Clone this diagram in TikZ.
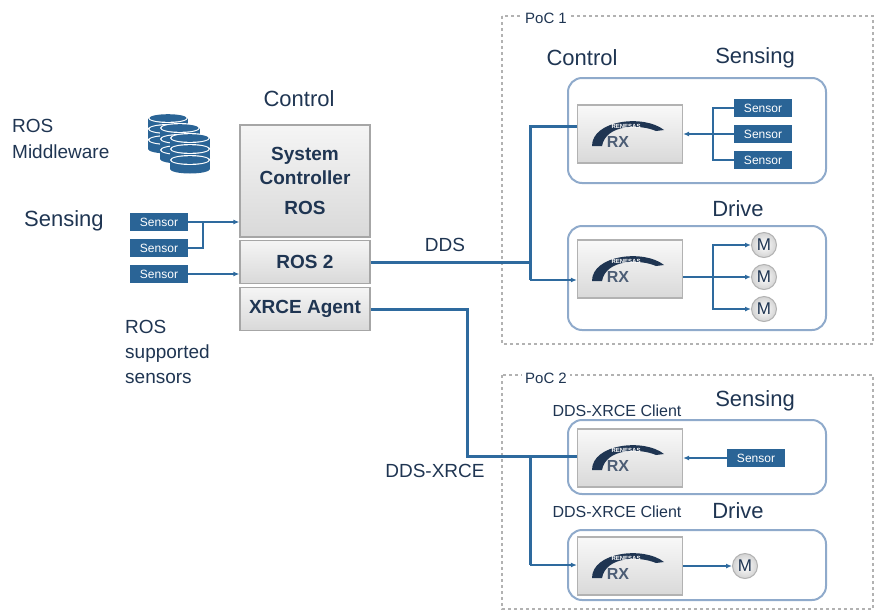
\documentclass[tikz,border=0pt]{standalone}
\usepackage{fontspec}
\setmainfont{Liberation Sans}
\usetikzlibrary{arrows.meta}
\definecolor{navy}{HTML}{1F3552}
\definecolor{sblue}{HTML}{2A6496}
\definecolor{lblue}{HTML}{8FAACB}
\definecolor{lin}{HTML}{2E6A9E}
\begin{document}
\begin{tikzpicture}[x=1pt,y=-1pt,
 lbl/.style={text=navy,font=\fontsize{22}{24}\selectfont,inner sep=0},
 sen/.style={fill=sblue,text=white,font=\fontsize{12}{12}\selectfont,minimum width=58,minimum height=18,inner sep=0},
 gbox/.style={draw=gray!70,line width=1.2,top color=gray!8,bottom color=gray!30,text=navy,font=\bfseries\fontsize{19}{24}\selectfont,align=center,inner sep=0},
 rbox/.style={draw=lblue,line width=2,rounded corners=14},
 poc/.style={draw=gray!60,dashed,line width=1.5},
 thin/.style={draw=lin,line width=1.3},
 thk/.style={draw=lin,line width=3},
 arr/.style={-{Latex[length=6,width=5]}},
 mot/.style={circle,draw=gray!60,line width=1,inner color=white,outer color=gray!35,minimum size=25,inner sep=0,font=\fontsize{17}{17}\selectfont,text=navy}]
\useasboundingbox (0,0) rectangle (875,611);
% dashed PoC boxes
\draw[poc] (502,16) rectangle (873,344);
\node[fill=white,inner sep=3,font=\fontsize{15}{16}\selectfont,text=navy] (p1) at (546,18) {PoC 1};
\draw[poc] (502,375) rectangle (873,609);
\node[fill=white,inner sep=3,font=\fontsize{15}{16}\selectfont,text=navy] (p2) at (546,378) {PoC 2};
% left texts
\node[lbl,anchor=west,align=left,font=\fontsize{19}{26}\selectfont] (mw) at (12,139) {ROS\\Middleware};
\node[lbl,anchor=west] (sl) at (24,221) {Sensing};
\node[lbl,anchor=north west,align=left,font=\fontsize{19}{25}\selectfont] (rs) at (125,320) {ROS\\supported\\sensors};
\node[lbl] (ctl) at (299,99) {Control};
% database icon
\foreach \i/\xx/\yy in {1/168/118,2/180/128,3/190/138}{
 \foreach \k in {0,1,2}{
  \fill[sblue] (\xx-20,\yy+\k*11) rectangle (\xx+20,\yy+\k*11+9);
  \fill[sblue] (\xx,\yy+\k*11+9) ellipse (20 and 4.5);
  \fill[white] (\xx,\yy+\k*11) ellipse (20 and 5);
  \fill[sblue] (\xx,\yy+\k*11) ellipse (18.5 and 3.8);
 }}
% controller boxes
\node[gbox,minimum width=130,minimum height=112] (sc) at (305,181) {System\\Controller\\[6pt]ROS};
\node[gbox,minimum width=130,minimum height=43] (r2) at (305,262) {ROS 2};
\node[gbox,minimum width=130,minimum height=43] (xa) at (305,309) {XRCE Agent};
% left sensors
\node[sen] (s1) at (159,222) {Sensor};
\node[sen] (s2) at (159,248) {Sensor};
\node[sen] (s3) at (159,274) {Sensor};
\coordinate (j1) at (203,222);
\draw[thin,arr] (s1) -- (sc.west|-s1);
\draw[thin] (s2) -| (j1);
\draw[thin,arr] (s3) -- (r2.west|-s3);
% RX chip pic
\newcommand{\rxchip}[2]{%
 \node[draw=gray!60,line width=1.2,top color=gray!5,bottom color=gray!30,minimum width=105,minimum height=58,inner sep=0] (#1) at #2 {};
 \begin{scope}[shift={(#1.center)}]
  \fill[navy] (-38,12) .. controls (-38,-14) and (14,-20) .. (34,-4) -- (26,-3) .. controls (10,-10) and (-24,-10) .. (-28,12) -- cycle;
  \node[text=white,font=\bfseries\fontsize{6}{6}\selectfont,inner sep=0] at (-4,-8) {RENESAS};
  \node[text=navy!80,font=\bfseries\fontsize{16}{16}\selectfont,inner sep=0] at (-12,8) {RX};
 \end{scope}}
% PoC1 sensing
\node[lbl] (c1) at (582,58) {Control};
\node[lbl] (sn1) at (755,58) {Sensing};
\draw[rbox] (568,78) rectangle (826,183);
\rxchip{rx1}{(630,134)}
\node[sen] (a1) at (763,108) {Sensor};
\node[sen] (a2) at (763,134) {Sensor};
\node[sen] (a3) at (763,160) {Sensor};
\coordinate (j2) at (713,134);
\draw[thin] (a1) -| (j2) |- (a3);
\draw[thin,arr] (a2) -- (rx1);
% Drive
\node[lbl] (dr1) at (738,209) {Drive};
\draw[rbox] (568,226) rectangle (826,330);
\rxchip{rx2}{(630,269)}
\node[mot] (m1) at (764,245) {M};
\node[mot] (m2) at (764,277) {M};
\node[mot] (m3) at (764,309) {M};
\coordinate (j3) at (713,277);
\draw[thin] (rx2.east|-m2) -- (j3);
\draw[thin,arr] (j3) |- (m1);
\draw[thin,arr] (j3) -- (m2);
\draw[thin,arr] (j3) |- (m3);
% DDS
\coordinate (d1) at (530,262);
\draw[thk] (r2.east) -- (d1);
\draw[thk] (rx1.west|-0,126) -| (530,280);
\draw[thin,line width=2,arr] (530,280) -- (rx2.west|-0,280);
\node[lbl,font=\fontsize{19}{20}\selectfont] (dds) at (445,245) {DDS};
% PoC2
\node[lbl,font=\fontsize{16}{17}\selectfont] (cl1) at (617,411) {DDS-XRCE Client};
\node[lbl] (sn2) at (755,401) {Sensing};
\draw[rbox] (568,420) rectangle (826,494);
\rxchip{rx3}{(630,458)}
\node[sen] (b1) at (756,458) {Sensor};
\draw[thin,arr] (b1) -- (rx3);
\node[lbl,font=\fontsize{16}{17}\selectfont] (cl2) at (617,512) {DDS-XRCE Client};
\node[lbl] (dr2) at (738,511) {Drive};
\draw[rbox] (568,530) rectangle (826,600);
\rxchip{rx4}{(630,566)}
\node[mot] (m4) at (745,566) {M};
\draw[thin,arr] (rx4) -- (m4);
% XRCE line
\draw[thk] (xa.east) -- (467,309) |- (530,456);
\draw[thk] (rx3.west|-0,456) -| (530,565);
\draw[thin,line width=2,arr] (530,565) -- (rx4.west|-0,565);
\node[lbl,font=\fontsize{19}{20}\selectfont] (dx) at (435,471) {DDS-XRCE};
\end{tikzpicture}
\end{document}
